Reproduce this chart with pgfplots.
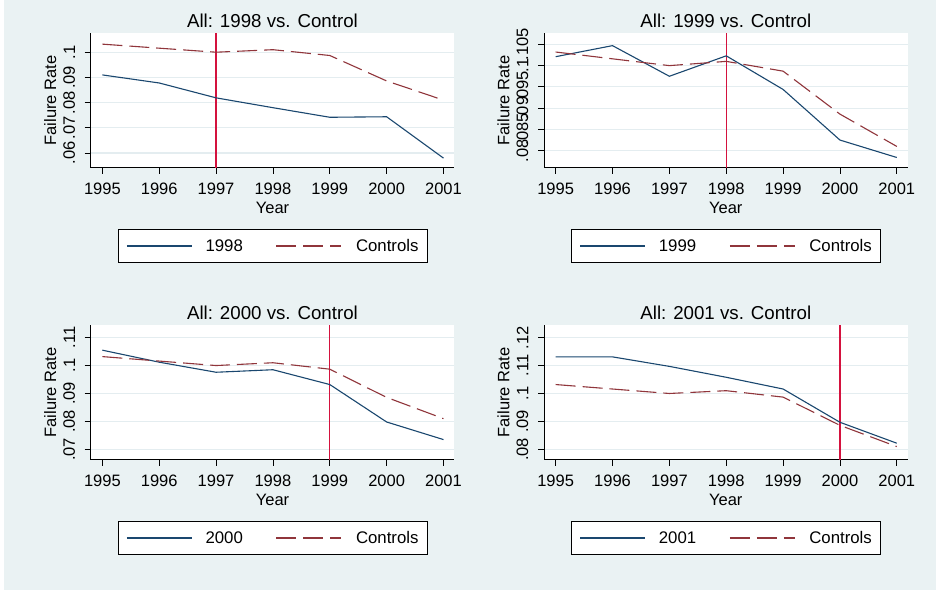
\documentclass[border=0pt]{standalone}
\usepackage{fontspec}
\setmainfont{Liberation Sans}
\usepackage{pgfplots}
\pgfplotsset{compat=1.18}

\definecolor{stbg}{RGB}{234,242,243}
\definecolor{stgrid}{RGB}{228,237,240}
\definecolor{stnavy}{RGB}{26,71,111}
\definecolor{stmaroon}{RGB}{144,53,59}
\definecolor{stred}{RGB}{212,18,62}

% controls are the same in every panel
\pgfplotstableread{
year rate
1995 0.1032
1996 0.1016
1997 0.1000
1998 0.1010
1999 0.0987
2000 0.0886
2001 0.0810
}\controls

\pgfplotsset{
  stpanel/.style={
    scale only axis, width=363.6bp, height=134.4bp,
    anchor=north west,
    xmin=1994.795, xmax=2001.19,
    xtick={1995,1996,1997,1998,1999,2000,2001},
    xticklabels={1995,1996,1997,1998,1999,2000,2001},
    axis lines*=left,
    axis line style={-, line width=0.8bp, black},
    tick align=outside, major tick length=6bp,
    tick style={black, line width=0.8bp},
    ymajorgrids, grid style={stgrid, line width=1.2bp},
    axis background/.style={fill=white},
    /pgf/number format/assume math mode=true,
    tick label style={font=\fontsize{16.5bp}{19bp}\selectfont},
    xticklabel style={anchor=base, yshift=-21bp},
    yticklabel style={rotate=90, anchor=south, inner ysep=9.5bp},
    label style={font=\fontsize{16.5bp}{19bp}\selectfont},
    xlabel={Year},
    xlabel style={at={(axis description cs:0.5,-0.342)}, anchor=base},
    ylabel={Failure Rate},
    ylabel style={at={(axis description cs:-0.0954,0.5)}, anchor=base, rotate=0},
    title style={font=\fontsize{18.7bp}{22bp}\selectfont,
      at={(axis description cs:0.5,0.997)}, anchor=base, yshift=0pt},
    legend columns=2,
    legend style={at={(axis description cs:0.5,-0.456)}, anchor=north,
      draw=black, line width=0.8bp, fill=white,
      font=\fontsize{16.8bp}{19bp}\selectfont,
      inner xsep=8.5bp, inner ysep=9.75bp,
      nodes={inner sep=0bp},
      /tikz/column 1/.style={column sep=13bp},
      /tikz/column 2/.style={column sep=33bp},
      /tikz/column 3/.style={column sep=14bp}},
    legend image code/.code={\draw[##1] (0bp,0bp) -- (65bp,0bp);},
  },
  treat/.style={stnavy, line width=1.1bp},
  ctrl/.style={stmaroon, line width=1.1bp, dash pattern=on 20bp off 7bp},
  vline/.style={stred, line width=1.3bp, forget plot},
}

\begin{document}
\begin{tikzpicture}
\path[fill=white] (0bp,0bp) rectangle (938bp,-593bp);
\fill[stbg] (4bp,0bp) rectangle (936bp,-590bp);

% top left
\begin{axis}[stpanel, at={(90.7bp,-33.3bp)},
  title={All: 1998 vs. Control},
  ymin=0.0542, ymax=0.1075,
  ytick={0.06,0.07,0.08,0.09,0.1},
  yticklabels={.06,.07,.08,.09,.1}]
  \addplot[vline] coordinates {(1997,0.0542) (1997,0.1075)};
  \addplot[treat] coordinates {
    (1995,0.0910) (1996,0.0878) (1997,0.0819) (1998,0.0780)
    (1999,0.0742) (2000,0.0744) (2001,0.0580)};
  \addplot[ctrl] table[x=year, y=rate] {\controls};
  \legend{1998,Controls}
\end{axis}

% top right
\begin{axis}[stpanel, at={(544bp,-33.3bp)},
  title={All: 1999 vs. Control},
  ymin=0.0760, ymax=0.1076,
  ytick={0.08,0.085,0.09,0.095,0.1,0.105},
  yticklabels={.08,.085,.09,.095,.1,.105}]
  \addplot[vline] coordinates {(1998,0.0760) (1998,0.1076)};
  \addplot[treat] coordinates {
    (1995,0.1021) (1996,0.1047) (1997,0.0975) (1998,0.1023)
    (1999,0.0944) (2000,0.0825) (2001,0.0784)};
  \addplot[ctrl] table[x=year, y=rate] {\controls};
  \legend{1999,Controls}
\end{axis}

% bottom left
\begin{axis}[stpanel, at={(90.7bp,-325.3bp)},
  title={All: 2000 vs. Control},
  ymin=0.0663, ymax=0.1144,
  ytick={0.07,0.08,0.09,0.1,0.11},
  yticklabels={.07,.08,.09,.1,.11}]
  \addplot[vline] coordinates {(1999,0.0663) (1999,0.1144)};
  \addplot[treat] coordinates {
    (1995,0.1055) (1996,0.1012) (1997,0.0976) (1998,0.0985)
    (1999,0.0932) (2000,0.0798) (2001,0.0735)};
  \addplot[ctrl] table[x=year, y=rate] {\controls};
  \legend{2000,Controls}
\end{axis}

% bottom right
\begin{axis}[stpanel, at={(544bp,-325.3bp)},
  title={All: 2001 vs. Control},
  ymin=0.0763, ymax=0.1244,
  ytick={0.08,0.09,0.1,0.11,0.12},
  yticklabels={.08,.09,.1,.11,.12}]
  \addplot[vline] coordinates {(2000,0.0763) (2000,0.1244)};
  \addplot[treat] coordinates {
    (1995,0.1131) (1996,0.1131) (1997,0.1097) (1998,0.1058)
    (1999,0.1016) (2000,0.0897) (2001,0.0822)};
  \addplot[ctrl] table[x=year, y=rate] {\controls};
  \legend{2001,Controls}
\end{axis}
\end{tikzpicture}
\end{document}
